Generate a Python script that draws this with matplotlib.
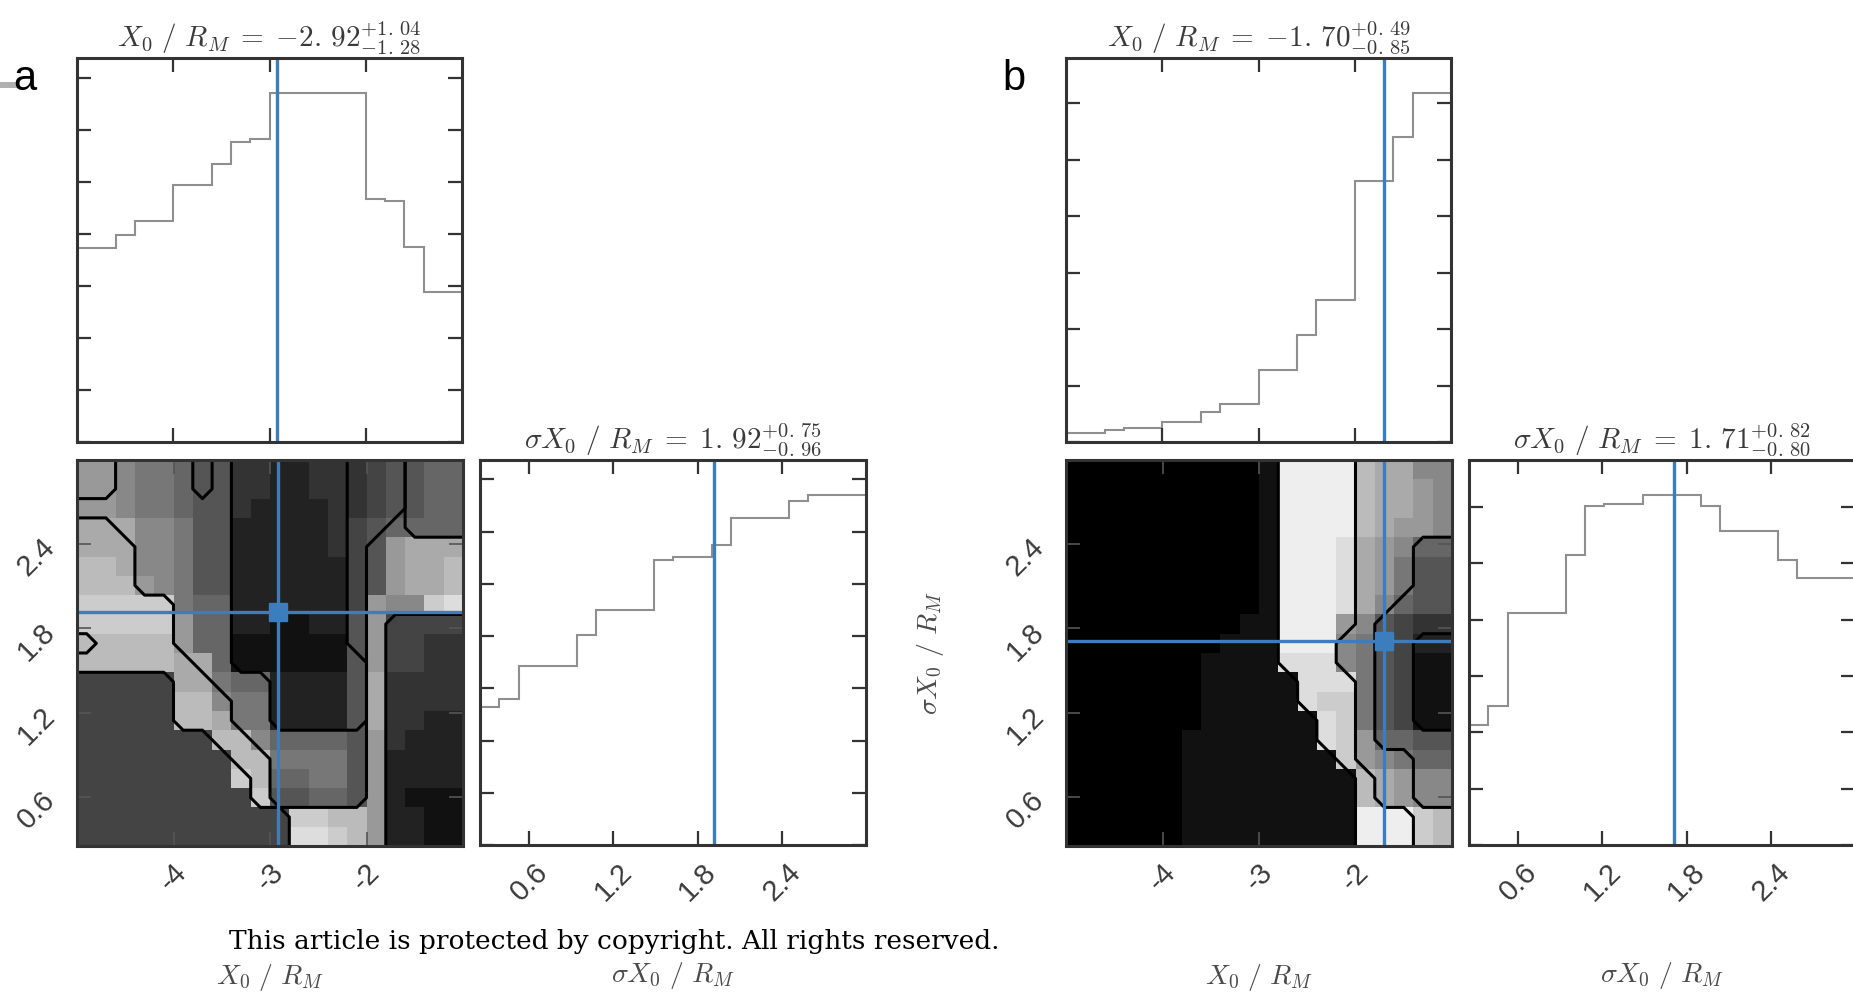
import numpy as np
import matplotlib
matplotlib.use("Agg")
import matplotlib.pyplot as plt
from matplotlib.lines import Line2D
from matplotlib.ticker import MultipleLocator

plt.rcParams["mathtext.fontset"] = "cm"
plt.rcParams["font.family"] = ["Liberation Sans", "DejaVu Sans"]

W, H = 1853, 993

# ---------------- shared ranges / ticks ----------------
X0_RANGE = (-5.0, -1.0)
SIG_RANGE = (0.25, 3.0)
X0_TICKS = [-4, -3, -2]
X0_TICKLABELS = ["-4", "-3", "-2"]
SIG_TICKS = [0.6, 1.2, 1.8, 2.4]
SIG_TICKLABELS = ["0.6", "1.2", "1.8", "2.4"]
N_BINS = 20

# ---------------- panel a ----------------
A_X0_HIST = [3.73, 3.73, 3.98, 4.25, 4.25, 4.94, 4.94, 5.35, 5.77, 5.83,
             6.71, 6.71, 6.71, 6.71, 6.71, 4.67, 4.63, 3.75, 2.88, 2.88]
A_SIG_HIST = [2.64, 2.79, 3.42, 3.42, 3.42, 4.02, 4.49, 4.49, 4.49, 5.45,
              5.52, 5.52, 5.74, 6.26, 6.26, 6.26, 6.58, 6.70, 6.70, 6.70]
A_X0_MED, A_SIG_MED = -2.92, 1.92
A_X0_TITLE = r"$X_0\ /\ R_M\;=\;{-}2.\,92^{+1.\,04}_{-1.\,28}$"
A_SIG_TITLE = r"$\sigma X_0\ /\ R_M\;=\;1.\,92^{+0.\,75}_{-0.\,96}$"
# grey level of each 2D cell (hex 0..f), top row first
A_GRAY = [
    "99877655332233345566",
    "99877655332233345566",
    "99877655322223345566",
    "aaa88755222223456666",
    "aaa88755222223459aaa",
    "bba88755222222459aab",
    "bbb98755222222459aab",
    "ccccc7662222224988cd",
    "ccccc966221122594444",
    "bbbbb966111111594433",
    "bbbbbaa6111111594433",
    "44444aa76622225a3333",
    "44444bb87722225a3333",
    "44444bba7722225a3322",
    "4444444bb86666593222",
    "44444444bb7777592222",
    "44444444cb6677592222",
    "444444444c5566592111",
    "44444444444ccbb92211",
    "44444444444ddcb92211",
]
# credible-region level of each 2D cell, top row first
A_LEVEL = [
    "11222232333333222000",
    "11222232333333222000",
    "22222222333333222000",
    "11222222333333221000",
    "11122222333333211111",
    "11122222333333211111",
    "11122222333333211111",
    "11111222333333211111",
    "11111222333333210000",
    "21111222333333210000",
    "11111122333333310000",
    "00000112223333310000",
    "00000111223333310000",
    "00000111223333310000",
    "00000001122222210000",
    "00000000112222210000",
    "00000000012222210000",
    "00000000012222210000",
    "00000000000111110000",
    "00000000000111110000",
]

# ---------------- panel b ----------------
B_X0_HIST = [0.16, 0.16, 0.21, 0.25, 0.25, 0.35, 0.35, 0.53, 0.67, 0.67,
             1.27, 1.27, 1.89, 2.51, 2.51, 4.62, 4.62, 5.40, 6.18, 6.18]
B_SIG_HIST = [2.13, 2.47, 4.11, 4.11, 4.11, 5.15, 6.01, 6.05, 6.05, 6.21,
              6.21, 6.21, 6.01, 5.57, 5.57, 5.57, 5.05, 4.73, 4.73, 4.73]
B_X0_MED, B_SIG_MED = -1.70, 1.71
B_X0_TITLE = r"$X_0\ /\ R_M\;=\;{-}1.\,70^{+0.\,49}_{-0.\,85}$"
B_SIG_TITLE = r"$\sigma X_0\ /\ R_M\;=\;1.\,71^{+0.\,82}_{-0.\,80}$"
B_GRAY = [
    "00000000001eeeebaa88",
    "00000000001eeeebaa98",
    "00000000001eeeebaa98",
    "00000000001eeeeba998",
    "00000000001eeeda9866",
    "00000000001eeeda9755",
    "00000000001eeeda9755",
    "00000000001eeeda8655",
    "00000000011eee985433",
    "00000000111eee875422",
    "00000001111ddd875411",
    "000000011111ddd75411",
    "000000011111dcc75411",
    "0000000111111dc75411",
    "0000001111111dc96655",
    "00000011111111c98766",
    "000000111111111ba988",
    "000000111111111ba988",
    "000000111111111eeecb",
    "000000111111111eeecb",
]
B_LEVEL = [
    "00000000000111122222",
    "00000000000111122222",
    "00000000000111122222",
    "00000000000111122222",
    "00000000000111122233",
    "00000000000111122233",
    "00000000000111122233",
    "00000000000111122333",
    "00000000000111123333",
    "00000000000111223344",
    "00000000000111223344",
    "00000000000011123344",
    "00000000000011123344",
    "00000000000001123344",
    "00000000000001123333",
    "00000000000000122233",
    "00000000000000012233",
    "00000000000000012233",
    "00000000000000011122",
    "00000000000000011122",
]

BLUE = "#3c7dbe"
HIST_C = "#8f8f8f"
SPINE_C = "#333333"
TEXT_C = "#3a3a3a"
LABEL_C = "#4a4a4a"

x_edges = np.linspace(*X0_RANGE, N_BINS + 1)
s_edges = np.linspace(*SIG_RANGE, N_BINS + 1)


def grid(rows, base):
    arr = np.array([[int(ch, base) for ch in r] for r in rows], dtype=float)
    return arr[::-1]  # bottom row first


def padded_centers(edges):
    # cell centres plus one ghost cell either side, so contours reach the frame
    c = 0.5 * (edges[:-1] + edges[1:])
    step = edges[1] - edges[0]
    return np.concatenate([[c[0] - step], c, [c[-1] + step]])


def px_axes(fig, x0, y0, x1, y1):
    return fig.add_axes([x0 / W, 1 - y1 / H, (x1 - x0) / W, (y1 - y0) / H])


def style(ax):
    ax.tick_params(direction="in", length=10, width=1.6, color=SPINE_C,
                   top=True, right=True, labelsize=21, labelcolor=TEXT_C,
                   pad=9)
    for sp in ax.spines.values():
        sp.set_linewidth(2.2)
        sp.set_color(SPINE_C)


def rot_labels(ax, axis):
    labels = ax.get_xticklabels() if axis == "x" else ax.get_yticklabels()
    for t in labels:
        t.set_rotation(45)
        if axis == "x":
            t.set_ha("center")


def draw_panel(fig, x_off, letter, x0_hist, sig_hist, x0_med, sig_med,
               x0_title, sig_title, gray_rows, level_rows, show_ylabel):
    # top: X0 marginal
    ax1 = px_axes(fig, x_off, 58, x_off + 385, 442)
    ax1.stairs(x0_hist, x_edges, color=HIST_C, lw=1.5, baseline=None)
    ax1.axvline(x0_med, color=BLUE, lw=2.4)
    ax1.set_xlim(X0_RANGE)
    ax1.set_ylim(0, 1.1 * max(x0_hist))
    ax1.set_xticks(X0_TICKS)
    ax1.set_xticklabels([])
    ax1.yaxis.set_major_locator(MultipleLocator(1))
    ax1.set_yticklabels([])
    style(ax1)
    ax1.set_title(x0_title, fontsize=21, color=TEXT_C, pad=8)

    # bottom-left: joint distribution
    ax2 = px_axes(fig, x_off, 460, x_off + 386, 846)
    gray = grid(gray_rows, 16)
    level = np.pad(grid(level_rows, 10), 1, mode="edge")
    ax2.pcolormesh(x_edges, s_edges, gray, cmap="gray", vmin=0, vmax=15,
                   shading="flat")
    xc = padded_centers(x_edges)
    sc = padded_centers(s_edges)
    for k in range(1, int(level.max()) + 1):
        ax2.contour(xc, sc, (level >= k).astype(float), levels=[0.5],
                    colors="black", linewidths=2.2)
    ax2.axvline(x0_med, color=BLUE, lw=2.4)
    ax2.axhline(sig_med, color=BLUE, lw=2.4)
    ax2.plot([x0_med], [sig_med], "s", color=BLUE, ms=13)
    ax2.set_xlim(X0_RANGE)
    ax2.set_ylim(SIG_RANGE)
    ax2.set_xticks(X0_TICKS)
    ax2.set_xticklabels(X0_TICKLABELS)
    ax2.set_yticks(SIG_TICKS)
    ax2.set_yticklabels(SIG_TICKLABELS)
    style(ax2)
    ax2.tick_params(color="#555555", width=1.2)
    ax2.tick_params(axis="y", pad=12)
    rot_labels(ax2, "x")
    rot_labels(ax2, "y")
    ax2.set_xlabel(r"$X_0\ /\ R_M$", fontsize=20, color=LABEL_C)
    ax2.xaxis.set_label_coords(0.5, -0.30)
    if show_ylabel:
        ax2.set_ylabel(r"$\sigma X_0\ /\ R_M$", fontsize=20, color=LABEL_C)
        ax2.yaxis.set_label_coords(-0.31, 0.5)

    # bottom-right: sigma marginal
    ax3 = px_axes(fig, x_off + 403, 460, x_off + 789, 845)
    ax3.stairs(sig_hist, s_edges, color=HIST_C, lw=1.5, baseline=None)
    ax3.axvline(sig_med, color=BLUE, lw=2.4)
    ax3.set_xlim(SIG_RANGE)
    ax3.set_ylim(0, 1.1 * max(sig_hist))
    ax3.set_xticks(SIG_TICKS)
    ax3.set_xticklabels(SIG_TICKLABELS)
    ax3.yaxis.set_major_locator(MultipleLocator(1))
    ax3.set_yticklabels([])
    style(ax3)
    rot_labels(ax3, "x")
    ax3.set_title(sig_title, fontsize=21, color=TEXT_C, pad=8)
    ax3.set_xlabel(r"$\sigma X_0\ /\ R_M$", fontsize=20, color=LABEL_C)
    ax3.xaxis.set_label_coords(0.5, -0.30)

    fig.text((x_off - 52) / W, 1 - 79 / H, letter, fontsize=30,
             ha="center", va="center", color="black")


fig = plt.figure(figsize=(W / 100, H / 100), dpi=100)
fig.patch.set_facecolor("white")

draw_panel(fig, 77, "a", A_X0_HIST, A_SIG_HIST, A_X0_MED, A_SIG_MED,
           A_X0_TITLE, A_SIG_TITLE, A_GRAY, A_LEVEL, False)
draw_panel(fig, 1066, "b", B_X0_HIST, B_SIG_HIST, B_X0_MED, B_SIG_MED,
           B_X0_TITLE, B_SIG_TITLE, B_GRAY, B_LEVEL, True)

# small grey crop mark left of "a"
fig.add_artist(Line2D([0, 15 / W], [1 - 85 / H, 1 - 85 / H],
                      color="#b0b0b0", lw=4.3, transform=fig.transFigure))

fig.text(614 / W, 1 - 942 / H,
         "This article is protected by copyright. All rights reserved.",
         fontsize=19, family="DejaVu Serif", ha="center", va="center",
         color="black")

fig.savefig("out.png", dpi=100)
